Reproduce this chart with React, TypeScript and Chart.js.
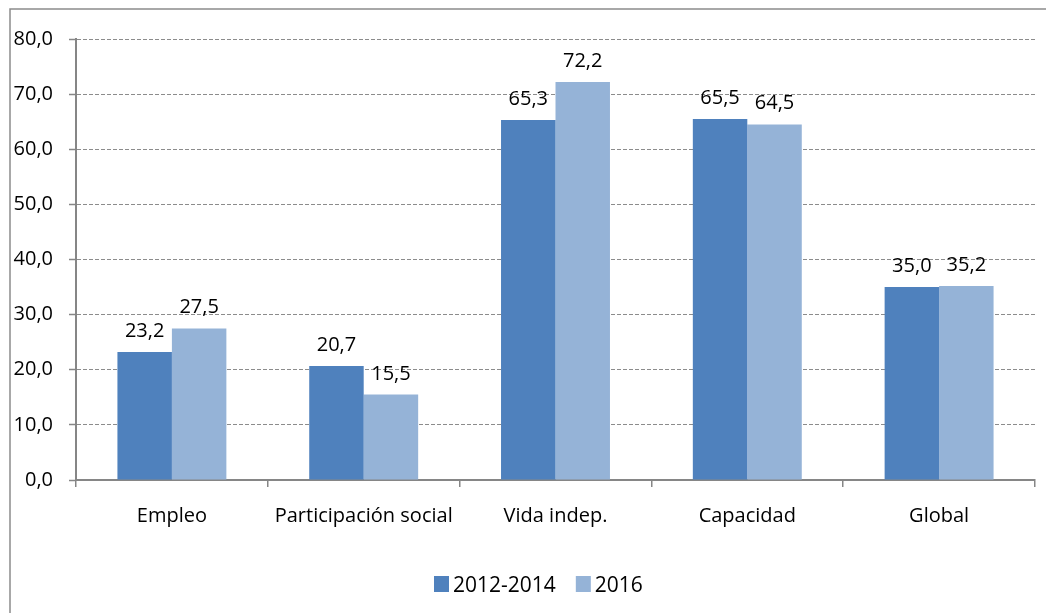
import React, { useEffect, useRef } from "react";
import { Chart, registerables } from "chart.js";

Chart.register(...registerables);

const categories = ["Empleo", "Participación social", "Vida indep.", "Capacidad", "Global"];
const series2012_2014 = [23.2, 20.7, 65.3, 65.5, 35.0];
const series2016 = [27.5, 15.5, 72.2, 64.5, 35.2];
const seriesLabels = ["2012-2014", "2016"];
const seriesColors = ["#4F81BD", "#95B3D7"];
const yTicks = [0, 10, 20, 30, 40, 50, 60, 70, 80];

const FONT = "'Open Sans', 'Noto Sans', sans-serif";
const fmt = (v: number) => v.toFixed(1).replace(".", ",");

const frame = {
  id: "frame",
  beforeDraw(chart: any) {
    const ctx = chart.ctx;
    ctx.save();
    ctx.strokeStyle = "#8c8c8c";
    ctx.lineWidth = 1.5;
    ctx.beginPath();
    ctx.moveTo(10, 613);
    ctx.lineTo(10, 9);
    ctx.lineTo(1046, 9);
    ctx.stroke();
    ctx.restore();
  },
};

const valueLabels = {
  id: "valueLabels",
  afterDatasetsDraw(chart: any) {
    const ctx = chart.ctx;
    ctx.save();
    ctx.font = `20px ${FONT}`;
    ctx.fillStyle = "#000";
    ctx.textAlign = "center";
    ctx.textBaseline = "alphabetic";
    chart.data.datasets.forEach((ds: any, di: number) => {
      const meta = chart.getDatasetMeta(di);
      meta.data.forEach((bar: any, i: number) => {
        ctx.fillText(fmt(ds.data[i]), bar.x, bar.y - 15);
      });
    });
    ctx.restore();
  },
};

const bottomLegend = {
  id: "bottomLegend",
  afterDraw(chart: any) {
    const ctx = chart.ctx;
    ctx.save();
    ctx.font = `21px ${FONT}`;
    ctx.textAlign = "left";
    ctx.textBaseline = "alphabetic";
    let x = 434;
    const baseline = 592;
    chart.data.datasets.forEach((ds: any) => {
      ctx.fillStyle = ds.backgroundColor;
      ctx.fillRect(x, 576, 15, 16);
      ctx.fillStyle = "#000";
      ctx.fillText(ds.label, x + 19, baseline);
      x += 19 + ctx.measureText(ds.label).width + 20;
    });
    ctx.restore();
  },
};

export default function App() {
  const ref = useRef<HTMLCanvasElement>(null);
  useEffect(() => {
    document.body.style.margin = "0";
    const chart = new Chart(ref.current!, {
      type: "bar",
      data: {
        labels: categories,
        datasets: [
          { label: seriesLabels[0], data: series2012_2014, backgroundColor: seriesColors[0] },
          { label: seriesLabels[1], data: series2016, backgroundColor: seriesColors[1] },
        ],
      },
      options: {
        animation: false,
        responsive: false,
        maintainAspectRatio: false,
        layout: { padding: { left: 0, right: 11, top: 39, bottom: 0 } },
        datasets: { bar: { categoryPercentage: 0.568, barPercentage: 1 } },
        plugins: {
          legend: { display: false },
          tooltip: { enabled: false },
        },
        scales: {
          x: {
            grid: {
              offset: true,
              drawOnChartArea: false,
              drawTicks: true,
              tickLength: 7,
              color: "#868686",
              lineWidth: 1.5,
            },
            border: { color: "#868686", width: 2 },
            ticks: { font: { family: FONT, size: 20 }, color: "#000", padding: 17, maxRotation: 0, autoSkip: false },
            afterFit(scale: any) {
              scale.height = 133;
            },
          },
          y: {
            min: 0,
            max: 80,
            afterBuildTicks(scale: any) {
              scale.ticks = yTicks.map((v) => ({ value: v }));
            },
            grid: {
              color: "#8c8c8c",
              lineWidth: 1,
              tickLength: 7,
              tickColor: "#868686",
              tickWidth: 1.5,
            },
            border: { color: "#868686", width: 2, dash: [4, 2] },
            ticks: {
              font: { family: FONT, size: 20 },
              color: "#000",
              padding: 16,
              callback: (v: any) => fmt(Number(v)),
            },
            afterFit(scale: any) {
              scale.width = 76;
            },
          },
        },
      },
      plugins: [frame, valueLabels, bottomLegend],
    });
    return () => chart.destroy();
  }, []);
  return (
    <div style={{ width: 1046, height: 613, background: "#fff" }}>
      <canvas ref={ref} width={1046} height={613} style={{ display: "block" }} />
    </div>
  );
}
